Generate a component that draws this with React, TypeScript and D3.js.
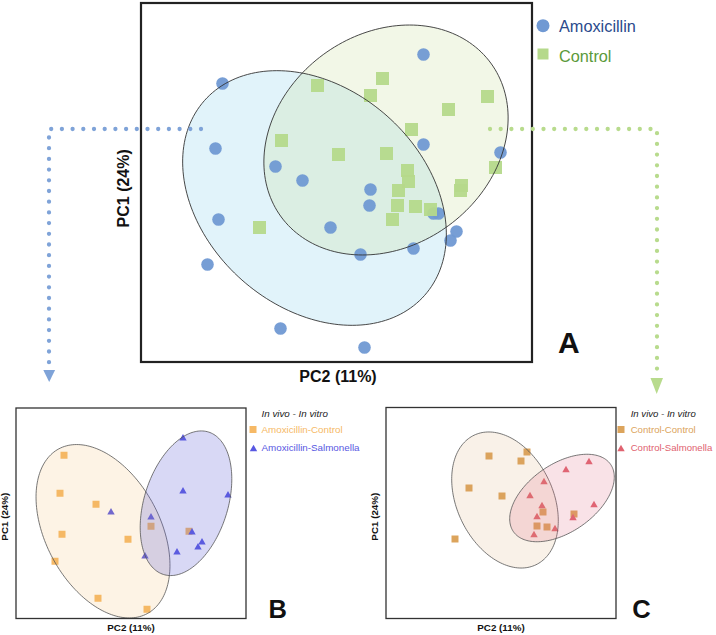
import React from 'react';
import * as d3 from 'd3';

type Pt = [number, number];
type Ell = { cx: number; cy: number; rx: number; ry: number; angle: number };

// ---------- Panel A (PC2 on x, PC1 on y) ----------
const groupsA = ['Amoxicillin', 'Control'];
const amoxA: Pt[] = [
  [8.7, 12.8], [-11.4, 9.9], [-12.1, 3.4], [8.7, 3.8], [16.4, 3.0], [-6.1, 1.6], [-3.4, 0.2],
  [3.4, -0.7], [3.3, -2.3], [-11.8, -3.7], [-0.6, -4.5], [9.7, -3.1], [10.2, -3.1], [12.0, -4.9],
  [11.4, -5.8], [7.7, -6.6], [2.4, -7.2], [-12.9, -8.2], [-5.6, -14.6], [2.8, -16.5],
];
const controlA: Pt[] = [
  [4.6, 10.4], [-1.9, 9.7], [3.4, 8.7], [15.1, 8.6], [11.2, 7.3], [7.5, 5.3], [-5.5, 4.2],
  [0.2, 2.8], [5.0, 2.9], [7.1, 1.2], [7.2, 0.1], [15.9, 1.5], [12.5, -0.3], [12.4, -0.8],
  [6.2, -0.8], [6.1, -2.3], [7.9, -2.4], [9.4, -2.7], [5.6, -3.7], [-7.7, -4.5],
];
const ellAmoxA: Ell = { cx: -2.2, cy: -1.55, rx: 14.7, ry: 10.95, angle: -41.5 };
const ellControlA: Ell = { cx: 4.95, cy: 4.25, rx: 13.0, ry: 10.6, angle: 36.3 };

// ---------- Panel B ----------
const groupsB = ['Amoxicillin-Control', 'Amoxicillin-Salmonella'];
const amoxControlB: Pt[] = [
  [-6.7, 5.8], [-7.1, 2.0], [-3.5, 0.9], [-6.9, -2.1], [-0.3, -2.6], [-7.6, -4.8],
  [2.0, -1.3], [5.8, -1.8], [-3.3, -8.5], [1.6, -9.6],
];
const amoxSalmB: Pt[] = [
  [5.2, 7.5], [5.2, 2.2], [9.7, 1.8], [-2.0, 0.1], [2.0, -0.4], [6.1, -1.9], [7.1, -2.9],
  [6.7, -3.4], [4.6, -3.9], [1.4, -4.3],
];
const ellAmoxControlB: Ell = { cx: -2.8, cy: -1.8, rx: 9.35, ry: 5.71, angle: -61.8 };
const ellAmoxSalmB: Ell = { cx: 5.5, cy: 1.0, rx: 7.47, ry: 4.18, angle: 72.4 };

// ---------- Panel C ----------
const groupsC = ['Control-Control', 'Control-Salmonella'];
const ctrlControlC: Pt[] = [
  [-1.2, 5.7], [2.6, 6.1], [2.0, 5.2], [-3.2, 2.5], [0.1, 1.7], [4.2, 0.1], [7.3, -0.1],
  [3.6, -1.3], [4.6, -1.4], [-4.6, -2.6],
];
const ctrlSalmC: Pt[] = [
  [8.8, 5.1], [6.5, 4.3], [4.3, 3.1], [2.9, 1.7], [9.3, 0.8], [4.1, 0.7], [3.6, -0.4],
  [7.2, -0.5], [5.4, -1.6], [3.3, -2.2],
];
const ellCtrlControlC: Ell = { cx: 0.4, cy: 1.3, rx: 7.18, ry: 4.81, angle: -64.5 };
const ellCtrlSalmC: Ell = { cx: 6.1, cy: 1.5, rx: 5.91, ry: 3.4, angle: 34.7 };

const xLabel = 'PC2 (11%)';
const yLabel = 'PC1 (24%)';
const legendTitle = 'In vivo - In vitro';

const FONT = "'Liberation Sans', Arial, Helvetica, sans-serif";

// scales
const xA = d3.scaleLinear().domain([-19.55, 19.55]).range([141, 532]);
const yA = d3.scaleLinear().domain([-17.95, 17.95]).range([362, 3]);
const xB = d3.scaleLinear().domain([-11.5, 11.5]).range([16, 246]);
const yB = d3.scaleLinear().domain([-10.525, 10.525]).range([618.5, 408]);
const xC = d3.scaleLinear().domain([-11.5, 11.5]).range([386, 616]);
const yC = d3.scaleLinear().domain([-10.55, 10.55]).range([618.5, 407.5]);

const lineGen = d3.line<Pt>().curve(d3.curveLinearClosed);

function ellipsePath(e: Ell, xs: d3.ScaleLinear<number, number>, ys: d3.ScaleLinear<number, number>) {
  const phi = (e.angle * Math.PI) / 180;
  const pts: Pt[] = d3.range(0, 360, 2).map((deg) => {
    const t = (deg * Math.PI) / 180;
    const dx = e.rx * Math.cos(t);
    const dy = e.ry * Math.sin(t);
    return [
      xs(e.cx + dx * Math.cos(phi) - dy * Math.sin(phi)),
      ys(e.cy + dx * Math.sin(phi) + dy * Math.cos(phi)),
    ];
  });
  return lineGen(pts) || '';
}

const sq = (s: number) => d3.symbol().type(d3.symbolSquare).size(s * s)() || '';
const tri = (side: number) => d3.symbol().type(d3.symbolTriangle).size((Math.sqrt(3) / 4) * side * side)() || '';

const BLUE = '#7099d3';
const GREEN = '#b5d98b';
const ORANGE = '#f6b966';
const PURPLE = '#5858e2';
const TAN = '#dca45c';
const RED = '#e0626f';

export default function App() {
  const sqA = sq(13);
  const sqSmall = sq(7);
  const triSmall = tri(7.4);
  return (
    <svg width={716} height={635} style={{ position: 'absolute', left: 0, top: 0, background: '#fff' }} fontFamily={FONT}>
      <rect x={0} y={0} width={716} height={635} fill="#fff" />

      {/* ---------------- Panel A ---------------- */}
      <path d={ellipsePath(ellAmoxA, xA, yA)} fill="rgb(155,215,240)" fillOpacity={0.3} stroke="none" />
      <path d={ellipsePath(ellControlA, xA, yA)} fill="rgb(205,225,160)" fillOpacity={0.25} stroke="none" />
      {amoxA.map((d, i) => (
        <circle key={'a' + i} cx={xA(d[0])} cy={yA(d[1])} r={6.3} fill={BLUE} fillOpacity={0.95} />
      ))}
      {controlA.map((d, i) => (
        <path key={'c' + i} d={sqA} transform={`translate(${xA(d[0])},${yA(d[1])})`} fill={GREEN} fillOpacity={0.95} />
      ))}
      <path d={ellipsePath(ellAmoxA, xA, yA)} fill="none" stroke="#333" strokeWidth={0.9} />
      <path d={ellipsePath(ellControlA, xA, yA)} fill="none" stroke="#333" strokeWidth={0.9} />
      <rect x={141} y={3} width={391} height={359} fill="none" stroke="#222" strokeWidth={2.2} />

      {/* legend A */}
      <circle cx={543} cy={25.7} r={6.5} fill={BLUE} />
      <text x={559} y={31.8} fontSize={16.3} fill="#2b4a8c">{groupsA[0]}</text>
      <rect x={537.5} y={48.5} width={11} height={11} fill={GREEN} />
      <text x={559} y={61.7} fontSize={16.3} fill="#5b9a3b">{groupsA[1]}</text>

      <text transform="translate(129,188.3) rotate(-90)" textAnchor="middle" fontSize={16} fontWeight="bold" fill="#111">{yLabel}</text>
      <text x={338} y={381.5} textAnchor="middle" fontSize={16} fontWeight="bold" fill="#111">{xLabel}</text>
      <text x={558} y={353} fontSize={30} fontWeight="bold" fill="#111">A</text>

      {/* dotted arrows */}
      <path d="M201,129 H49 V364" fill="none" stroke="#7fa3d8" strokeWidth={4.3} strokeLinecap="round" strokeDasharray="0 10.7" />
      <polygon points="43.3,370 55.1,370 49.2,382" fill="#7fa3d8" />
      <path d="M490,129 H657 V374" fill="none" stroke="#b8db8d" strokeWidth={4.3} strokeLinecap="round" strokeDasharray="0 10.7" />
      <polygon points="650.5,378 663,378 656.7,394" fill="#b8db8d" />

      {/* ---------------- Panel B ---------------- */}
      {amoxControlB.map((d, i) => (
        <path key={'bc' + i} d={sqSmall} transform={`translate(${xB(d[0])},${yB(d[1])})`} fill={ORANGE} />
      ))}
      {amoxSalmB.map((d, i) => (
        <path key={'bs' + i} d={triSmall} transform={`translate(${xB(d[0])},${yB(d[1])})`} fill={PURPLE} />
      ))}
      <path d={ellipsePath(ellAmoxControlB, xB, yB)} fill="rgb(245,185,100)" fillOpacity={0.17} stroke="#555" strokeWidth={0.8} />
      <path d={ellipsePath(ellAmoxSalmB, xB, yB)} fill="rgb(100,100,215)" fillOpacity={0.25} stroke="#555" strokeWidth={0.8} />
      <rect x={16} y={408} width={230} height={210.5} fill="none" stroke="#333" strokeWidth={1.3} />
      <text transform="translate(8.3,516.7) rotate(-90)" textAnchor="middle" fontSize={9.8} fontWeight="bold" fill="#111">{yLabel}</text>
      <text x={131} y={630.5} textAnchor="middle" fontSize={9.8} fontWeight="bold" fill="#111">{xLabel}</text>
      <text x={268.5} y={618} fontSize={25.5} fontWeight="bold" fill="#111">B</text>
      <text x={261.5} y={416.7} fontSize={9.8} fontStyle="italic" fill="#222">{legendTitle}</text>
      <rect x={249.5} y={426} width={7} height={7} fill={ORANGE} />
      <text x={261.5} y={432.5} fontSize={9.8} fill={ORANGE}>{groupsB[0]}</text>
      <path d={triSmall} transform="translate(253.5,449)" fill={PURPLE} />
      <text x={261.5} y={451.3} fontSize={9.8} fill={PURPLE}>{groupsB[1]}</text>

      {/* ---------------- Panel C ---------------- */}
      {ctrlControlC.map((d, i) => (
        <path key={'cc' + i} d={sqSmall} transform={`translate(${xC(d[0])},${yC(d[1])})`} fill={TAN} />
      ))}
      {ctrlSalmC.map((d, i) => (
        <path key={'cs' + i} d={triSmall} transform={`translate(${xC(d[0])},${yC(d[1])})`} fill={RED} />
      ))}
      <path d={ellipsePath(ellCtrlControlC, xC, yC)} fill="rgb(215,160,100)" fillOpacity={0.15} stroke="#555" strokeWidth={0.8} />
      <path d={ellipsePath(ellCtrlSalmC, xC, yC)} fill="rgb(225,110,135)" fillOpacity={0.2} stroke="#555" strokeWidth={0.8} />
      <rect x={386} y={407.5} width={230} height={211} fill="none" stroke="#333" strokeWidth={1.3} />
      <text transform="translate(377.8,516.7) rotate(-90)" textAnchor="middle" fontSize={9.8} fontWeight="bold" fill="#111">{yLabel}</text>
      <text x={501} y={630.5} textAnchor="middle" fontSize={9.8} fontWeight="bold" fill="#111">{xLabel}</text>
      <text x={632.3} y={618} fontSize={25.5} fontWeight="bold" fill="#111">C</text>
      <text x={630.7} y={416.7} fontSize={9.6} fontStyle="italic" fill="#222">{legendTitle}</text>
      <rect x={617.5} y={426} width={7} height={7} fill={TAN} />
      <text x={630.7} y={432.5} fontSize={9.6} fill={TAN}>{groupsC[0]}</text>
      <path d={triSmall} transform="translate(621,449)" fill={RED} />
      <text x={630.7} y={451.3} fontSize={9.6} fill={RED}>{groupsC[1]}</text>
    </svg>
  );
}
